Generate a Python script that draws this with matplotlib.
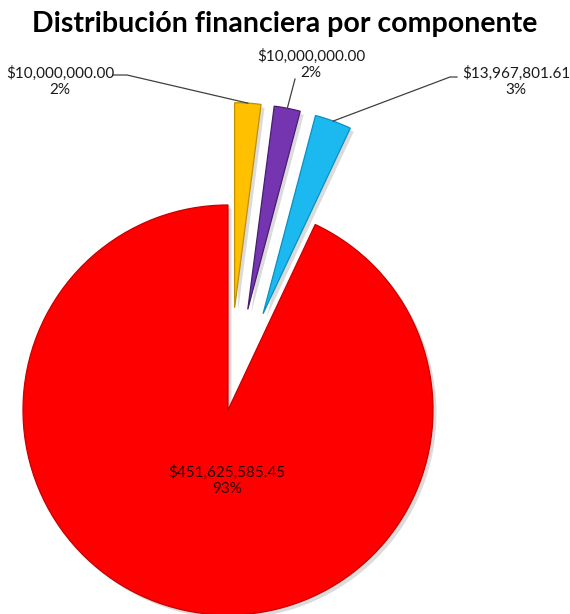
import matplotlib.pyplot as plt
import matplotlib.patheffects as pe
import numpy as np

# montos por componente
montos = [10000000.00, 10000000.00, 13967801.61, 451625585.45]
porcentajes = ['2%', '2%', '3%', '93%']
colores = ['#FFC000', '#7535B0', '#1CB8F0', '#FF0000']
bordes = ['#C09000', '#4A1C70', '#0C8FC0', '#C80000']
separacion = [0.5, 0.5, 0.5, 0.0]

plt.rcParams['font.family'] = ['Lato', 'DejaVu Sans']

fig = plt.figure(figsize=(5.7, 6.14), dpi=100)
ax = fig.add_axes([0, 0, 1, 1])

R = 205.0  # radio del pastel en pixeles
CX, CY = 228.0, 410.0


def px(x, y):
    # pixeles (desde arriba a la izquierda) a coordenadas del eje
    return (x - CX) / R, (CY - y) / R


wedges, _ = ax.pie(montos, colors=colores, explode=separacion, startangle=90,
                   counterclock=False, radius=1, wedgeprops=dict(linewidth=0.9))
for w, b in zip(wedges, bordes):
    w.set_edgecolor(b)
    w.set_path_effects([pe.SimplePatchShadow(offset=(2.5, -2.5), shadow_rgbFace='#888888', alpha=0.3),
                        pe.Normal()])

ax.set_xlim(-CX / R, (570 - CX) / R)
ax.set_ylim(-(614 - CY) / R, CY / R)
ax.set_aspect('equal')
ax.axis('off')


def texto(i):
    return f'${montos[i]:,.2f}\n{porcentajes[i]}'


def borde_sup(w):
    mid = np.deg2rad((w.theta1 + w.theta2) / 2)
    cx, cy = w.center
    return cx + w.r * np.cos(mid), cy + w.r * np.sin(mid)


# posiciones de etiquetas y lineas guia
pos_etiquetas = [(60, 81), (311, 64), (516, 81)]
guias = [[(113, 75), (127, 75)], [(295, 79)], [(457, 77), (450, 77)]]

for i in range(3):
    x, y = px(*pos_etiquetas[i])
    ax.text(x, y, texto(i), ha='center', va='center', fontsize=11,
            color='#1a1a1a', linespacing=1.2)
    pts = [px(*p) for p in guias[i]] + [borde_sup(wedges[i])]
    ax.plot([p[0] for p in pts], [p[1] for p in pts], color='#404040', lw=0.9)

x, y = px(227, 480)
ax.text(x, y, texto(3), ha='center', va='center', fontsize=11,
        color='#2a0000', linespacing=1.2)

fig.text(285 / 570, 1 - 32 / 614, 'Distribución financiera por componente',
         ha='center', va='baseline', fontsize=20.5, fontweight='bold', color='black')

fig.savefig('out.png', dpi=100)
